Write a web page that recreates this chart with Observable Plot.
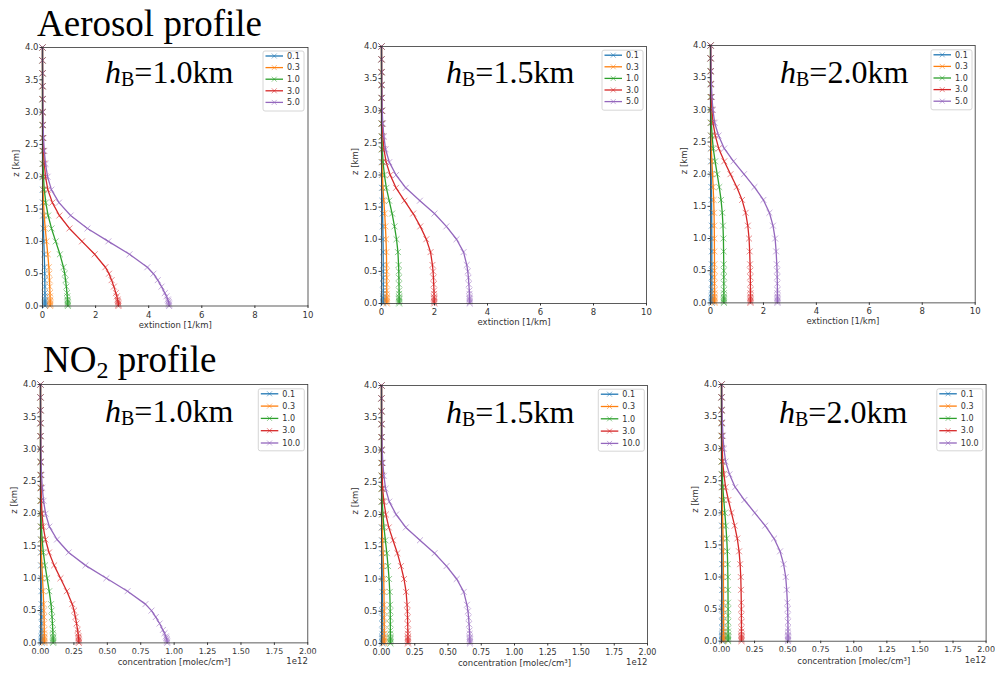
<!DOCTYPE html>
<html><head><meta charset="utf-8">
<script src="https://cdn.jsdelivr.net/npm/d3@7"></script>
<script src="https://cdn.jsdelivr.net/npm/@observablehq/plot@0.6"></script>
<style>
body{margin:0;background:#fff;}
#root{position:relative;width:995px;height:674px;overflow:hidden;background:#fff;}
#root svg{position:absolute;}
</style></head><body><div id="root"></div>
<script>
// ---------- data ----------
const zLevels = [0, 0.02, 0.04, 0.06, 0.08, 0.1, 0.15, 0.2, 0.3, 0.4, 0.5, 0.6, 0.8, 1.0, 1.2, 1.4, 1.6, 1.8, 2.0, 2.2, 2.4, 2.6, 2.8, 3.0, 3.2, 3.4, 3.6, 3.8, 4.0];
// relative profile shape (value / surface value) for each boundary-layer height
const shapeHB10 = [1.000, 0.999, 0.998, 0.996, 0.993, 0.989, 0.979, 0.966, 0.940, 0.910, 0.876, 0.828, 0.687, 0.520, 0.355, 0.222, 0.130, 0.070, 0.040, 0.024, 0.014, 0.008, 0.005, 0.003, 0.002, 0.001, 0.001, 0.000, 0.000];
const shapeHB15 = [1.000, 1.000, 0.999, 0.999, 0.998, 0.998, 0.997, 0.995, 0.990, 0.985, 0.978, 0.966, 0.930, 0.850, 0.735, 0.600, 0.435, 0.275, 0.165, 0.088, 0.046, 0.027, 0.015, 0.008, 0.005, 0.003, 0.002, 0.001, 0.000];
const shapeHB20 = [1.000, 1.000, 1.000, 1.000, 1.000, 0.999, 0.999, 0.999, 0.998, 0.996, 0.994, 0.990, 0.980, 0.965, 0.933, 0.880, 0.790, 0.656, 0.500, 0.344, 0.205, 0.120, 0.062, 0.036, 0.022, 0.013, 0.008, 0.005, 0.003];
const aerosolLabels = ["0.1", "0.3", "1.0", "3.0", "5.0"];
const no2Labels = ["0.1", "0.3", "1.0", "3.0", "10.0"];
// surface values of each series (extinction 1/km)
const aerosolSurfaceHB10 = [0.095, 0.29, 0.955, 2.86, 4.77];
const aerosolSurfaceHB15 = [0.067, 0.20, 0.667, 1.99, 3.33];
const aerosolSurfaceHB20 = [0.050, 0.152, 0.505, 1.51, 2.53];
// surface values of each series (concentration, units of 1e12 molec/cm3)
const no2SurfaceHB10 = [0.0095, 0.029, 0.095, 0.287, 0.948];
const no2SurfaceHB15 = [0.0067, 0.020, 0.067, 0.199, 0.665];
const no2SurfaceHB20 = [0.0050, 0.015, 0.050, 0.151, 0.503];
const aerosolTicks = [0, 2, 4, 6, 8, 10];
const no2Ticks = [0, 0.25, 0.5, 0.75, 1.0, 1.25, 1.5, 1.75, 2.0];
const zTicks = [0, 0.5, 1.0, 1.5, 2.0, 2.5, 3.0, 3.5, 4.0];
const hbLabels = ["1.0", "1.5", "2.0"];
const rowTitles = ["Aerosol profile", "NO2 profile"];

// ---------- styling / layout ----------
const colors = ["#1f77b4", "#ff7f0e", "#2ca02c", "#d62728", "#9467bd"];
const panels = [
  {kind: "aer", shape: shapeHB10, surf: aerosolSurfaceHB10, hb: 0, x0: 41.5, x1: 307, yT: 46.5, yB: 305, lab: [105, 83]},
  {kind: "aer", shape: shapeHB15, surf: aerosolSurfaceHB15, hb: 1, x0: 381, x1: 646, yT: 45.7, yB: 302.7, lab: [446, 83]},
  {kind: "aer", shape: shapeHB20, surf: aerosolSurfaceHB20, hb: 2, x0: 710.3, x1: 975, yT: 45.3, yB: 302.7, lab: [780, 83]},
  {kind: "no2", shape: shapeHB10, surf: no2SurfaceHB10, hb: 0, x0: 40, x1: 307.3, yT: 384.3, yB: 642.7, lab: [105, 422]},
  {kind: "no2", shape: shapeHB15, surf: no2SurfaceHB15, hb: 1, x0: 381.3, x1: 647.3, yT: 384.7, yB: 642.7, lab: [446, 423]},
  {kind: "no2", shape: shapeHB20, surf: no2SurfaceHB20, hb: 2, x0: 721.2, x1: 985.8, yT: 384.3, yB: 641, lab: [779, 423]}
];
const ML = 40, MR = 10, MT = 10, MB = 40;
const root = document.getElementById("root");
const tickFont = "DejaVu Sans, sans-serif";
const FS = 8.5;

for (const p of panels) {
  const isAer = p.kind === "aer";
  const labels = isAer ? aerosolLabels : no2Labels;
  const series = labels.map((lab, i) => zLevels.map((z, k) => ({series: lab, z, v: p.surf[i] * p.shape[k]})));
  const marks = [];
  series.forEach((rows, i) => {
    marks.push(Plot.line(rows, {x: "v", y: "z", stroke: colors[i], strokeWidth: 1.3}));
    marks.push(Plot.dot(rows, {x: "v", y: "z", symbol: "times", r: 2.8, stroke: colors[i], strokeWidth: 0.9, strokeOpacity: 0.6}));
  });
  marks.push(Plot.frame({stroke: "#333", strokeWidth: 0.8}));
  marks.push(Plot.axisX(isAer ? aerosolTicks : no2Ticks, {tickSize: 2.5, tickPadding: 3, label: null, tickFormat: isAer ? d3.format("d") : d3.format(".2f"), fontSize: isAer ? FS : 8}));
  marks.push(Plot.axisY(zTicks, {tickSize: 2.5, tickPadding: 1.5, label: null, tickFormat: d3.format(".1f"), fontSize: FS}));
  marks.push(Plot.text(["z [km]"], {frameAnchor: "left", rotate: -90, dx: -26, fontSize: FS, fill: "#333"}));
  marks.push(Plot.text([isAer ? "extinction [1/km]" : "concentration [molec/cm³]"], {frameAnchor: "bottom", dy: isAer ? 21.5 : 22.5, fontSize: FS, fill: "#333"}));
  if (!isAer) marks.push(Plot.text(["1e12"], {frameAnchor: "bottom-right", textAnchor: "end", dy: 21.5, fontSize: FS, fill: "#333"}));
  const pw = p.x1 - p.x0, ph = p.yB - p.yT;
  const svg = Plot.plot({
    width: pw + ML + MR, height: ph + MT + MB,
    marginLeft: ML, marginRight: MR, marginTop: MT, marginBottom: MB,
    x: {domain: [0, isAer ? 10 : 2]},
    y: {domain: [0, 4]},
    style: {fontFamily: tickFont, fontSize: FS + "px", color: "#333", background: "transparent", overflow: "visible"},
    marks
  });
  svg.style.left = (p.x0 - ML) + "px";
  svg.style.top = (p.yT - MT) + "px";
  root.appendChild(svg);
}

// ---------- overlay: titles, hB labels, legends ----------
const ov = d3.select(root).append("svg").attr("width", 995).attr("height", 674).style("left", "0px").style("top", "0px");
const serif = "Liberation Serif, Times New Roman, serif";
ov.append("text").attr("x", 37).attr("y", 36).attr("font-family", serif).attr("font-size", 37).attr("fill", "#000").text(rowTitles[0]);
const t2 = ov.append("text").attr("x", 43).attr("y", 372).attr("font-family", serif).attr("font-size", 37).attr("fill", "#000");
t2.append("tspan").text("NO");
t2.append("tspan").attr("font-size", 24).attr("dy", 6).text("2");
t2.append("tspan").attr("dy", -6).text(" profile");

for (const p of panels) {
  const t = ov.append("text").attr("x", p.lab[0]).attr("y", p.lab[1]).attr("font-family", serif).attr("font-size", 32).attr("fill", "#000");
  t.append("tspan").attr("font-style", "italic").text("h");
  t.append("tspan").attr("font-size", 20).attr("dy", 3).text("B");
  t.append("tspan").attr("dy", -3).text("=" + hbLabels[p.hb] + "km");

  const isAer = p.kind === "aer";
  const labels = isAer ? aerosolLabels : no2Labels;
  const lw = isAer ? 41 : 46, lh = isAer ? 60 : 62, sp = isAer ? 11.6 : 12.3;
  const bx = p.x1 - 3 - lw, by = p.yT + 4.5;
  const g = ov.append("g").attr("transform", `translate(${bx},${by})`);
  g.append("rect").attr("width", lw).attr("height", lh).attr("rx", 2).attr("fill", "#fff").attr("fill-opacity", 0.8).attr("stroke", "#ccc").attr("stroke-width", 0.8);
  labels.forEach((lab, i) => {
    const yy = 5 + sp * i;
    g.append("line").attr("x1", 2.5).attr("x2", 20).attr("y1", yy).attr("y2", yy).attr("stroke", colors[i]).attr("stroke-width", 1.3);
    g.append("path").attr("d", `M${11.25 - 2.5},${yy - 2.5}L${11.25 + 2.5},${yy + 2.5}M${11.25 - 2.5},${yy + 2.5}L${11.25 + 2.5},${yy - 2.5}`).attr("stroke", colors[i]).attr("stroke-width", 0.9).attr("stroke-opacity", 0.6);
    g.append("text").attr("x", 24).attr("y", yy).attr("dy", "0.35em").attr("font-family", tickFont).attr("font-size", 8).attr("fill", "#333").text(lab);
  });
}
</script>
</body></html>
